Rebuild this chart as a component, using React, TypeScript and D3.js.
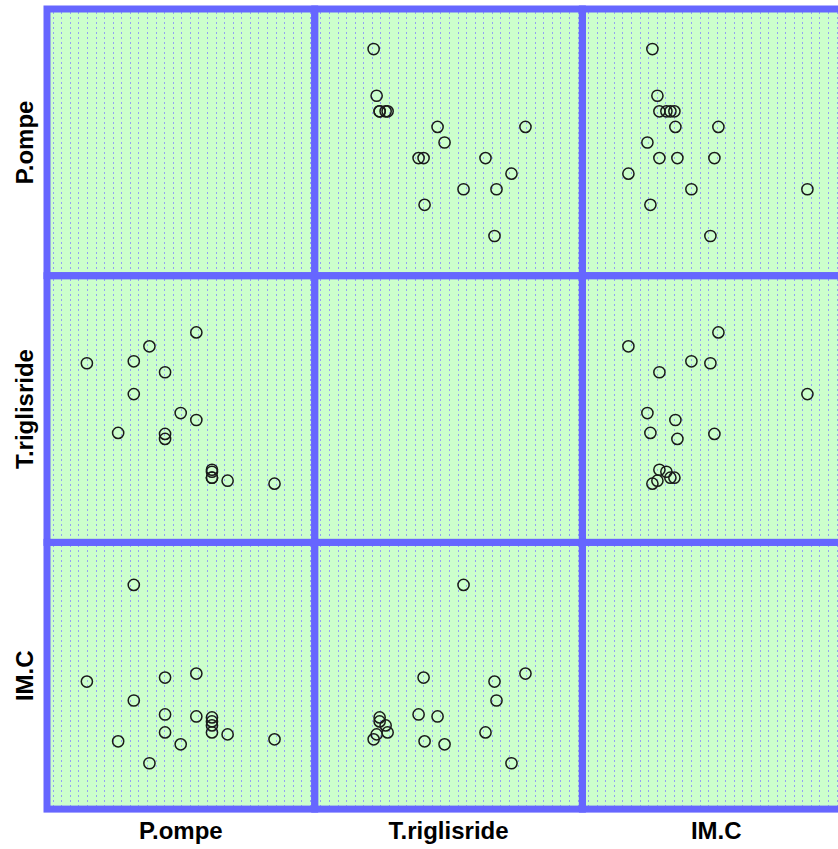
import { useRef, useEffect } from 'react'
import * as d3 from 'd3'

// variable names (diagonal order)
const varNames = ['P.ompe', 'T.riglisride', 'IM.C']

// one entry per subject
const pompe = [12, 9, 8, 8, 8, 8, 7, 7, 6, 5, 5, 5, 4, 3, 3, 2, 0]
const trigly = [0.50, 0.53, 0.64, 0.62, 0.56, 0.56, 2.02, 1.14, 1.21, 1.62, 0.95, 1.00, 1.88, 1.73, 1.40, 1.01, 1.71]
const imc = [22.4, 22.9, 23.1, 23.8, 24.2, 24.6, 29.0, 24.7, 21.9, 23.1, 24.9, 28.6, 20.0, 26.3, 37.9, 22.2, 28.2]

// axis limits per variable
const limits: [number, number][] = [[-2.55, 14.57], [-0.09, 2.59], [15.4, 42.17]]

const App = () => {
  const svgRef = useRef<SVGSVGElement>(null)

  useEffect(() => {
    const width = 838
    const height = 849
    const left = 47
    const top = 9
    const cellW = 267.7
    const cellH = 266.7
    const n = varNames.length
    const cols = [pompe, trigly, imc]

    const svg = d3.select(svgRef.current)
    svg.selectAll('*').remove()
    svg.attr('width', width).attr('height', height)

    for (let i = 0; i < n; i++) {
      for (let j = 0; j < n; j++) {
        const x0 = left + j * cellW
        const y0 = top + i * cellH
        const g = svg.append('g')

        g.append('rect')
          .attr('x', x0).attr('y', y0)
          .attr('width', cellW).attr('height', cellH)
          .attr('fill', '#ccffcc')

        // pointillé vertical du fond
        const hatch = d3.range(x0 + 5.7, x0 + cellW - 2, 8.57).map(d => Math.round(d) + 0.5)
        g.append('g')
          .selectAll('line')
          .data(hatch)
          .join('line')
          .attr('x1', d => d).attr('x2', d => d)
          .attr('y1', Math.round(y0) + 3).attr('y2', y0 + cellH - 3)
          .attr('stroke', '#93a2f2')
          .attr('stroke-width', 1)
          .attr('stroke-dasharray', '2,3')

        if (i !== j) {
          const x = d3.scaleLinear().domain(limits[j]).range([x0, x0 + cellW])
          const y = d3.scaleLinear().domain(limits[i]).range([y0 + cellH, y0])
          g.append('g')
            .selectAll('circle')
            .data(d3.range(pompe.length))
            .join('circle')
            .attr('cx', k => x(cols[j][k]))
            .attr('cy', k => y(cols[i][k]))
            .attr('r', 5.6)
            .attr('fill', 'none')
            .attr('stroke', '#1a1a1a')
            .attr('stroke-width', 1.5)
        }
      }
    }

    // bordures
    for (let i = 0; i < n; i++) {
      for (let j = 0; j < n; j++) {
        svg.append('rect')
          .attr('x', left + j * cellW).attr('y', top + i * cellH)
          .attr('width', cellW).attr('height', cellH)
          .attr('fill', 'none')
          .attr('stroke', '#6666ff')
          .attr('stroke-width', 7)
      }
    }

    const font = '"Liberation Sans", Arial, sans-serif'

    // étiquettes du bas
    svg.append('g')
      .selectAll('text')
      .data(varNames)
      .join('text')
      .text(d => d)
      .attr('x', (d, j) => left + j * cellW + cellW / 2)
      .attr('y', 838.5)
      .attr('text-anchor', 'middle')
      .attr('font-family', font)
      .attr('font-weight', 'bold')
      .attr('font-size', 24)
      .attr('fill', '#000')

    // étiquettes de gauche
    svg.append('g')
      .selectAll('text')
      .data(varNames)
      .join('text')
      .text(d => d)
      .attr('transform', (d, i) => `translate(33, ${top + i * cellH + cellH / 2}) rotate(-90)`)
      .attr('text-anchor', 'middle')
      .attr('font-family', font)
      .attr('font-weight', 'bold')
      .attr('font-size', 24)
      .attr('fill', '#000')
  }, [])

  return <svg ref={svgRef} style={{ position: 'absolute', left: 0, top: 0, background: '#fff' }}></svg>
}

export default App
